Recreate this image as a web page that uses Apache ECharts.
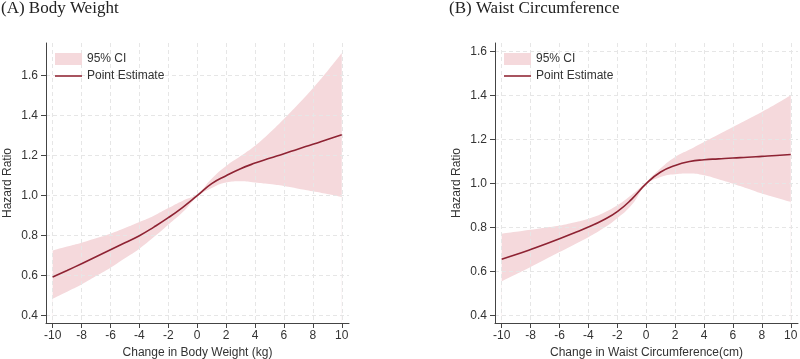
<!DOCTYPE html>
<html>
<head>
<meta charset="utf-8">
<script src="https://cdn.jsdelivr.net/npm/echarts@6/dist/echarts.min.js"></script>
<style>html,body{margin:0;padding:0;background:#fff}#c{width:800px;height:359px}</style>
</head>
<body>
<div id="c"></div>
<script>
// ---- data ----
var xValues = [-10,-9,-8,-7,-6,-5,-4,-3,-2,-1,0,1,2,3,4,5,6,7,8,9,10];
// (A) Body Weight
var bwEstimate = [0.593,0.626,0.660,0.695,0.730,0.765,0.800,0.843,0.890,0.942,1.000,1.060,1.100,1.135,1.163,1.187,1.210,1.234,1.257,1.281,1.305];
var bwUpper    = [0.726,0.746,0.765,0.787,0.810,0.838,0.868,0.900,0.938,0.975,1.008,1.085,1.148,1.198,1.250,1.314,1.384,1.458,1.537,1.622,1.713];
var bwLower    = [0.485,0.520,0.556,0.598,0.640,0.687,0.735,0.793,0.855,0.918,0.994,1.038,1.066,1.072,1.066,1.058,1.048,1.035,1.022,1.008,0.993];
// (B) Waist Circumference
var wcEstimate = [0.657,0.678,0.701,0.725,0.750,0.776,0.803,0.834,0.873,0.930,1.000,1.053,1.083,1.101,1.109,1.113,1.117,1.120,1.124,1.128,1.133];
var wcUpper    = [0.773,0.782,0.791,0.800,0.810,0.824,0.841,0.866,0.902,0.950,1.008,1.070,1.121,1.155,1.190,1.224,1.258,1.292,1.326,1.363,1.402];
var wcLower    = [0.556,0.588,0.621,0.655,0.689,0.723,0.757,0.796,0.843,0.904,0.994,1.030,1.043,1.046,1.038,1.020,1.000,0.978,0.955,0.936,0.917];
// ticks
var xTicks = [-10,-8,-6,-4,-2,0,2,4,6,8,10];
var yTicks = [0.4,0.6,0.8,1.0,1.2,1.4,1.6];
var titles = ['(A) Body Weight','(B) Waist Circumference'];
var xNames = ['Change in Body Weight (kg)','Change in Waist Circumference(cm)'];
var yName = 'Hazard Ratio';
var legendNames = ['95% CI','Point Estimate'];

// ---- styles ----
var ciColor = '#f5d9dc';
var lineColor = '#8e2333';
var txt = '#333333';
var font = 'Liberation Sans, Arial, sans-serif';

function pairs(ys){ return xValues.map(function(x,i){ return [x, ys[i]]; }); }

function xAxis(idx){
  return {
    type:'value', gridIndex:idx, min:-10.46, max:10.5,
    name:xNames[idx], nameLocation:'middle', nameGap:23,
    nameTextStyle:{color:txt, fontSize:12, fontFamily:font},
    axisLine:{show:true, onZero:false, lineStyle:{color:'#444', width:1}},
    axisTick:{show:true, length:5, customValues:xTicks, lineStyle:{color:'#444'}},
    axisLabel:{customValues:xTicks, color:txt, fontSize:12, fontFamily:font, margin:7,
      formatter:function(v){return String(v);}},
    splitLine:{show:true, lineStyle:{color:'#e6e6e6', type:[4,3], width:1}}
  };
}
function yAxis(idx, min, max){
  return {
    type:'value', gridIndex:idx, min:min, max:max,
    name:yName, nameLocation:'middle', nameGap:32,
    nameTextStyle:{color:txt, fontSize:12, fontFamily:font},
    axisLine:{show:true, onZero:false, lineStyle:{color:'#444', width:1}},
    axisTick:{show:true, length:5, customValues:yTicks, lineStyle:{color:'#444'}},
    axisLabel:{customValues:yTicks, color:txt, fontSize:12, fontFamily:font, margin:8,
      formatter:function(v){return v.toFixed(1);}},
    splitLine:{show:true, lineStyle:{color:'#e6e6e6', type:[4,3], width:1}}
  };
}
function seriesFor(idx, est, up, lo){
  return [
    {name:legendNames[0], type:'line', xAxisIndex:idx, yAxisIndex:idx, data:pairs(up),
     smooth:0.5, symbol:'none', lineStyle:{opacity:0}, color:ciColor,
     areaStyle:{color:ciColor, opacity:1, origin:'start'}, silent:true, z:-3},
    {name:'lower'+idx, type:'line', xAxisIndex:idx, yAxisIndex:idx, data:pairs(lo),
     smooth:0.5, symbol:'none', lineStyle:{opacity:0}, color:'#ffffff',
     areaStyle:{color:'#ffffff', opacity:1, origin:'start'}, silent:true, z:-2},
    {name:legendNames[1], type:'line', xAxisIndex:idx, yAxisIndex:idx, data:pairs(est),
     smooth:0.5, symbol:'none', color:lineColor, lineStyle:{color:lineColor, width:1.6}, z:3}
  ];
}
function legendFor(left){
  return {
    orient:'vertical', left:left, top:53, itemWidth:27, itemHeight:12, itemGap:5,
    padding:0, selectedMode:false,
    textStyle:{color:txt, fontSize:12, fontFamily:font},
    data:[
      {name:legendNames[0], icon:'rect', itemStyle:{color:ciColor, borderWidth:0}},
      {name:legendNames[1], icon:'path://M0,0 L27,0 L27,2 L0,2 Z', itemStyle:{color:'#a8545f', borderWidth:0}}
    ]
  };
}

var chart = echarts.init(document.getElementById('c'), null, {renderer:'canvas'});
chart.setOption({
  animation:false,
  backgroundColor:'#fff',
  title:[
    {text:titles[0], left:1, top:0, padding:0, textStyle:{fontFamily:'Liberation Serif, Times New Roman, serif', fontSize:17, fontWeight:'normal', color:'#222'}},
    {text:titles[1], left:449, top:0, padding:0, textStyle:{fontFamily:'Liberation Serif, Times New Roman, serif', fontSize:17, fontWeight:'normal', color:'#222'}}
  ],
  legend:[legendFor(55), legendFor(504)],
  grid:[
    {left:46, top:43, width:303, height:280, containLabel:false, outerBoundsMode:'none'},
    {left:495, top:43, width:303, height:280, containLabel:false, outerBoundsMode:'none'}
  ],
  xAxis:[xAxis(0), xAxis(1)],
  yAxis:[yAxis(0, 0.3635, 1.7635), yAxis(1, 0.3668, 1.6395)],
  series:[].concat(seriesFor(0, bwEstimate, bwUpper, bwLower), seriesFor(1, wcEstimate, wcUpper, wcLower))
});
</script>
</body>
</html>
